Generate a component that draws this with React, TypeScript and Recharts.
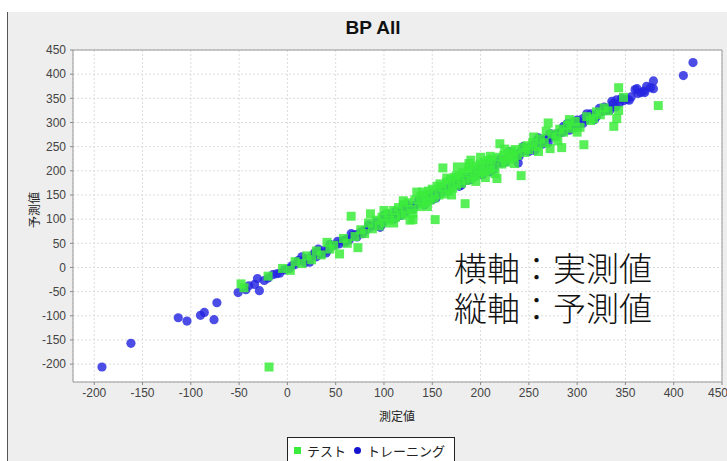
import React from "react";
import { ScatterChart, Scatter, XAxis, YAxis, CartesianGrid, ReferenceLine } from "recharts";

const xTicks = [-200, -150, -100, -50, 0, 50, 100, 150, 200, 250, 300, 350, 400, 450];
const yTicks = [-200, -150, -100, -50, 0, 50, 100, 150, 200, 250, 300, 350, 400, 450];

// トレーニング (measured, predicted)
const trainingPoints: [number, number][] = [
  [-192, -206], [-162, -157], [-113, -104], [-104, -111], [-90, -99], [-86, -93], [-76, -108], [-73, -73],
  [-51, -52], [-43, -46], [-29, -48], [-34, -35], [-31, -23], [-24, -27], [-15, -15], [-8, -12], [-11, -13],
  [-3, -5], [2, -2], [5, 4], [11, 14], [8, 6], [13, 14], [18, 10], [23, 11], [26, 25], [30, 22], [34, 30],
  [38, 35], [42, 36], [46, 44], [50, 47], [54, 49], [57, 55], [61, 58], [64, 57], [68, 66], [72, 63], [75, 72],
  [79, 76], [82, 78], [86, 84], [90, 87], [93, 88], [96, 83], [99, 96], [102, 100], [106, 101], [109, 107],
  [113, 104], [116, 112], [119, 118], [122, 115], [126, 123], [129, 126], [132, 128], [135, 132], [138, 136],
  [141, 135], [144, 142], [147, 145], [150, 146], [153, 150], [156, 155], [159, 154], [162, 160], [165, 163],
  [168, 162], [171, 170], [174, 172], [177, 171], [180, 178], [183, 181], [186, 180], [189, 187], [192, 190],
  [195, 189], [198, 196], [201, 199], [204, 198], [207, 205], [210, 208], [213, 207], [216, 214], [219, 217],
  [222, 216], [225, 223], [228, 226], [230, 235], [233, 229], [236, 234], [239, 216], [242, 240], [245, 242],
  [248, 246], [251, 249], [254, 251], [256, 242], [259, 256], [262, 260], [265, 262], [267, 266], [270, 268],
  [273, 270], [276, 273], [279, 277], [282, 279], [285, 280], [288, 286], [291, 289], [294, 291], [296, 301],
  [299, 296], [302, 300], [306, 308], [309, 305], [312, 310], [315, 313], [318, 316], [321, 318], [323, 329],
  [326, 323], [330, 325], [333, 330], [337, 339], [341, 347], [344, 341], [348, 345], [352, 348], [356, 353],
  [360, 368], [363, 360], [366, 362], [369, 365], [372, 375], [376, 372], [379, 370], [379, 386], [410, 397],
  [420, 424],
  [15, 22], [20, 18], [28, 30], [36, 28], [44, 48], [52, 54], [60, 52], [66, 70], [70, 68], [78, 70], [84, 88],
  [92, 94], [98, 90], [104, 110], [112, 116], [118, 108], [124, 130], [130, 120], [136, 140], [142, 130],
  [148, 152], [154, 144], [160, 166], [166, 158], [172, 178], [178, 168], [184, 188], [190, 182], [196, 202],
  [202, 192], [208, 214], [214, 203], [220, 224], [226, 218], [232, 238], [238, 230], [244, 250], [250, 240],
  [258, 262], [264, 255], [272, 277], [278, 271], [286, 292], [292, 284], [300, 305], [306, 298], [314, 318],
  [320, 312], [328, 332], [334, 326], [346, 350], [354, 346], [362, 370], [370, 362],
  [100, 108], [110, 100], [120, 128], [140, 148], [150, 140], [170, 180], [180, 170], [200, 208], [210, 198],
  [230, 240], [240, 230], [260, 268], [270, 258], [290, 298], [300, 290], [310, 318], [318, 306], [336, 344],
  [340, 332], [-40, -38], [-20, -22], [32, 38], [40, 30],
];

// テスト (measured, predicted)
const testPoints: [number, number][] = [
  [-48, -34], [-19, -206], [-45, -42], [-20, -18], [-5, -2], [3, -6], [8, 12], [15, 8], [20, 24], [25, 16],
  [30, 34], [35, 26], [41, 52], [44, 38], [48, 46], [54, 28], [58, 60], [62, 50], [66, 106], [70, 64], [73, 41],
  [76, 78], [80, 70], [84, 92], [86, 111], [88, 80], [92, 98], [95, 86], [98, 104], [101, 92], [104, 112],
  [106, 98], [110, 118], [112, 104], [115, 124], [118, 108], [120, 130], [122, 112], [125, 134], [127, 98],
  [128, 120], [130, 99], [132, 140], [134, 156], [136, 126], [138, 146], [140, 132], [142, 150], [144, 136],
  [146, 158], [148, 140], [150, 162], [152, 144], [153, 99], [155, 168], [157, 150], [158, 173], [160, 166],
  [161, 206], [163, 152], [165, 176], [167, 158], [169, 182], [171, 164], [173, 186], [175, 170], [176, 208],
  [178, 190], [180, 174], [182, 196], [184, 132], [185, 180], [187, 200], [188, 215], [190, 184], [192, 204],
  [194, 190], [196, 210], [198, 194], [200, 214], [202, 198], [204, 218], [206, 200], [208, 222], [210, 204],
  [212, 224], [214, 208], [217, 184], [218, 228], [220, 256], [222, 214], [224, 232], [226, 218], [228, 236],
  [230, 224], [232, 240], [234, 228], [236, 244], [238, 232], [242, 190], [244, 248], [246, 238], [248, 252],
  [250, 244], [254, 258], [258, 250], [262, 266], [266, 258], [270, 299], [272, 246], [274, 276], [278, 270],
  [282, 286], [284, 248], [286, 280], [290, 294], [294, 288], [298, 302], [303, 290], [307, 254], [310, 312],
  [314, 304], [317, 308], [320, 322], [324, 316], [328, 330], [332, 324], [338, 292], [341, 308], [343, 325],
  [343, 372], [348, 352], [384, 335],
  [190, 222], [195, 178], [200, 228], [205, 186], [210, 230], [215, 194], [185, 208], [175, 190], [100, 118],
  [110, 92], [120, 138], [130, 112], [140, 156], [145, 126], [255, 270], [260, 240], [268, 282], [280, 262],
  [292, 306], [300, 280], [165, 185], [170, 150], [225, 245], [235, 215],
];

const training = trainingPoints.map(([x, y]) => ({ x, y }));
const test = testPoints.map(([x, y]) => ({ x, y }));

const BLUE = "#2424e0";
const GREEN = "#3cec3c";
const jp = "'Noto Sans CJK JP', 'Noto Sans', sans-serif";
const sans = "'Liberation Sans', Arial, sans-serif";

const BlueDot = (p: any) => <circle cx={p.cx} cy={p.cy} r={4.6} fill={BLUE} fillOpacity={0.82} />;
const GreenSquare = (p: any) => (
  <rect x={p.cx - 4.5} y={p.cy - 4.5} width={9} height={9} fill={GREEN} fillOpacity={0.85} />
);

export default function App() {
  const tick = { fontSize: 12, fill: "#444", fontFamily: sans };
  return (
    <div style={{ position: "absolute", left: 0, top: 0, width: 727, height: 461, background: "#fff", overflow: "hidden" }}>
      <div style={{ position: "absolute", left: 7, top: 12, right: 0, bottom: 0, background: "#eeeeee", borderLeft: "1px solid #555" }} />
      <div style={{ position: "absolute", left: 0, top: 17, width: 746, textAlign: "center", fontFamily: sans, fontWeight: "bold", fontSize: 19, color: "#111" }}>
        BP All
      </div>
      <div style={{ position: "absolute", left: 0, top: 0 }}>
        <ScatterChart width={727} height={461} margin={{ top: 50, right: 5, bottom: 49, left: 13 }}>
          <CartesianGrid stroke="#dcdcdc" strokeDasharray="2 2" fill="#ffffff" />
          <XAxis
            type="number"
            dataKey="x"
            domain={[-222, 450]}
            ticks={xTicks}
            allowDataOverflow
            height={30}
            tick={tick}
            tickSize={3}
            tickMargin={3}
            tickLine={{ stroke: "#888" }}
            axisLine={{ stroke: "#999" }}
          />
          <YAxis
            type="number"
            dataKey="y"
            domain={[-237, 450]}
            ticks={yTicks}
            allowDataOverflow
            width={60}
            tick={tick}
            tickSize={3}
            tickMargin={4}
            tickLine={{ stroke: "#888" }}
            axisLine={{ stroke: "#999" }}
          />
          <ReferenceLine y={450} stroke="#999" />
          <ReferenceLine x={450} stroke="#999" />
          <Scatter name="トレーニング" data={training} shape={BlueDot} isAnimationActive={false} />
          <Scatter name="テスト" data={test} shape={GreenSquare} isAnimationActive={false} />
        </ScatterChart>
      </div>
      <div style={{ position: "absolute", left: 33, top: 210, transform: "translate(-50%, -50%) rotate(-90deg)", fontFamily: jp, fontSize: 12, color: "#222", whiteSpace: "nowrap" }}>
        予測値
      </div>
      <div style={{ position: "absolute", left: 397, top: 415, transform: "translate(-50%, -50%)", fontFamily: jp, fontSize: 12, color: "#222", whiteSpace: "nowrap" }}>
        測定値
      </div>
      <div style={{ position: "absolute", left: 454, top: 250, fontFamily: jp, fontWeight: 300, fontSize: 33, lineHeight: "35px", color: "#111", whiteSpace: "nowrap" }}>
        横軸：実測値
      </div>
      <div style={{ position: "absolute", left: 454, top: 290, fontFamily: jp, fontWeight: 300, fontSize: 33, lineHeight: "35px", color: "#111", whiteSpace: "nowrap" }}>
        縦軸：予測値
      </div>
      <div style={{ position: "absolute", left: 287, top: 437, width: 168, height: 30, border: "1px solid #222", background: "#fff", boxSizing: "border-box", fontFamily: jp, fontSize: 13, color: "#222", display: "flex", alignItems: "flex-start", paddingTop: 3, paddingLeft: 6, whiteSpace: "nowrap" }}>
        <span style={{ display: "inline-block", width: 7, height: 7, background: GREEN, marginTop: 6, marginRight: 6 }} />
        <span>テスト</span>
        <span style={{ display: "inline-block", width: 7, height: 7, borderRadius: "50%", background: "#1414d0", marginTop: 6, marginLeft: 8, marginRight: 6 }} />
        <span>トレーニング</span>
      </div>
    </div>
  );
}
